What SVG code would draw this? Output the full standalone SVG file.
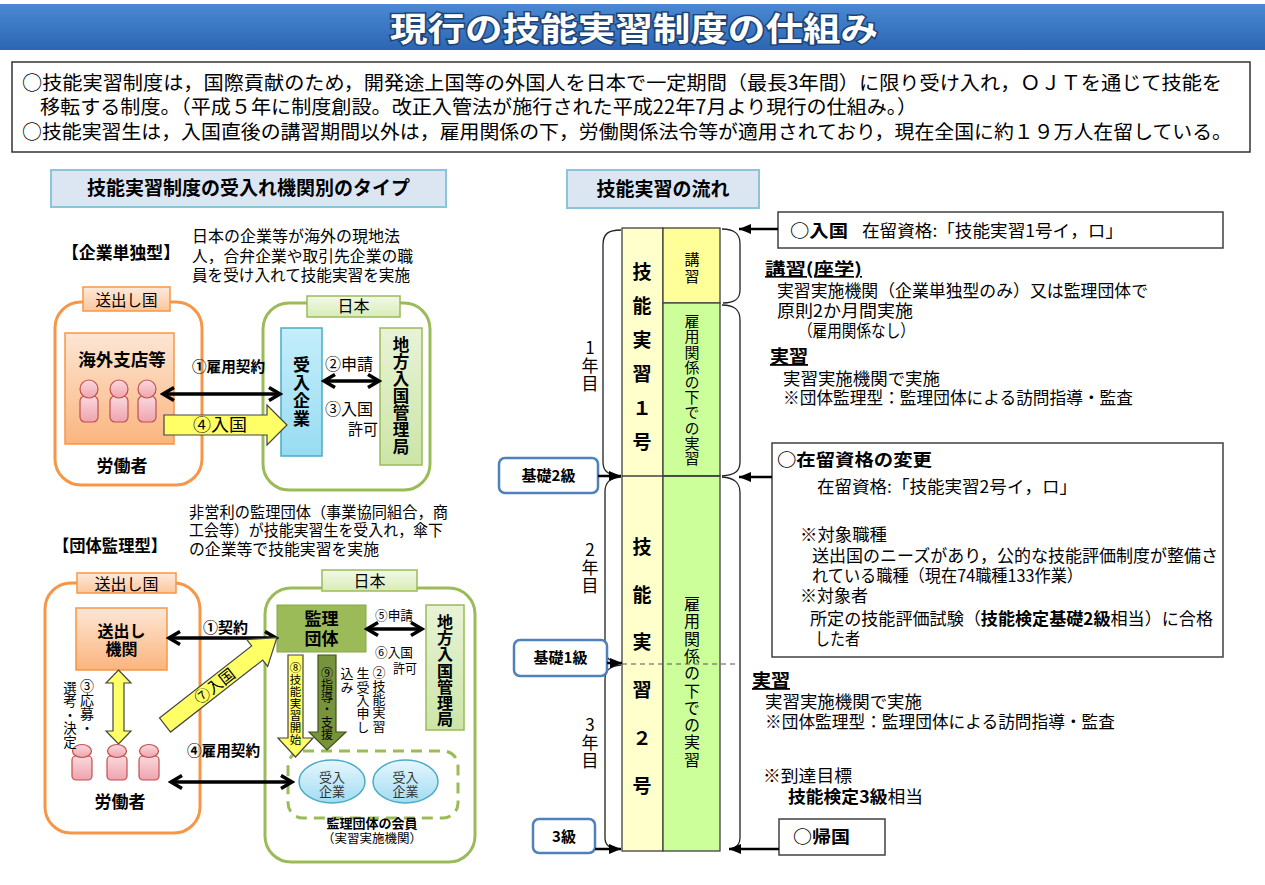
<svg xmlns="http://www.w3.org/2000/svg" width="1265" height="885" viewBox="0 0 1265 885">
<style>
.f{font-family:"Noto Sans CJK JP","Noto Sans CJK SC","Noto Sans",sans-serif;fill:#000}
.b{font-weight:700}
.v{writing-mode:vertical-rl;text-orientation:upright}
.box{fill:#fff;stroke:#404040;stroke-width:1.5}
.head{fill:#dce6f2;stroke:#8cc4da;stroke-width:2}
.oout{fill:#fff;stroke:#f79646;stroke-width:3}
.gout{fill:#fff;stroke:#9bbb59;stroke-width:3}
.otab{fill:url(#gOTab);stroke:#f79646;stroke-width:1.5}
.gtab{fill:url(#gGTab);stroke:#9bbb59;stroke-width:1.5}
.obox{fill:url(#gOBox);stroke:#f79646;stroke-width:1.5}
.gbox{fill:url(#gGBox);stroke:#9bbb59;stroke-width:1.5}
.bbox{fill:url(#gBBox);stroke:#4bacc6;stroke-width:1.5}
.pb{fill:url(#gPink);stroke:#c0504d;stroke-width:1.2}
.yarr{fill:#ffff66;stroke:#444;stroke-width:1.2}
.dbl{stroke:#000;stroke-width:3.5;fill:none;marker-start:url(#chev);marker-end:url(#chev)}
.sarr{stroke:#000;stroke-width:2.5;fill:none;marker-end:url(#tri)}
.lvl{fill:#fff;stroke:#4f81bd;stroke-width:2.5}
.brace{fill:none;stroke:#222;stroke-width:1.3}
.ell{fill:url(#gEll);stroke:#4bacc6;stroke-width:1.5}
</style>
<defs>
<linearGradient id="gTitle" x1="0" y1="0" x2="0" y2="1"><stop offset="0" stop-color="#4a89d4"/><stop offset="1" stop-color="#2c66b2"/></linearGradient>
<linearGradient id="gOTab" x1="0" y1="0" x2="0" y2="1"><stop offset="0" stop-color="#fdeadb"/><stop offset="1" stop-color="#fcc69a"/></linearGradient>
<linearGradient id="gGTab" x1="0" y1="0" x2="0" y2="1"><stop offset="0" stop-color="#f2f9e6"/><stop offset="1" stop-color="#d8ecb8"/></linearGradient>
<linearGradient id="gOBox" x1="0" y1="0" x2="0" y2="1"><stop offset="0" stop-color="#fde6d4"/><stop offset="1" stop-color="#fab57e"/></linearGradient>
<linearGradient id="gGBox" x1="0" y1="0" x2="0" y2="1"><stop offset="0" stop-color="#e8f3d6"/><stop offset="1" stop-color="#cce5a6"/></linearGradient>
<linearGradient id="gBBox" x1="0" y1="0" x2="0" y2="1"><stop offset="0" stop-color="#c4eefb"/><stop offset="1" stop-color="#98dcf2"/></linearGradient>
<linearGradient id="gPink" x1="0" y1="0" x2="0" y2="1"><stop offset="0" stop-color="#fbd9de"/><stop offset="1" stop-color="#eea3ae"/></linearGradient>
<linearGradient id="gEll" x1="0" y1="0" x2="0" y2="1"><stop offset="0" stop-color="#e6f7fd"/><stop offset="1" stop-color="#a2dcf2"/></linearGradient>
<marker id="chev" viewBox="0 0 16 16" refX="13" refY="8" markerWidth="16" markerHeight="16" markerUnits="userSpaceOnUse" orient="auto-start-reverse"><path d="M2,1.5 L13,8 L2,14.5" fill="none" stroke="#000" stroke-width="3.5"/></marker>
<marker id="tri" viewBox="0 0 12 10" refX="12" refY="5" markerWidth="12" markerHeight="10" markerUnits="userSpaceOnUse" orient="auto"><path d="M0,0 L12,5 L0,10 z" fill="#000"/></marker>
</defs>

<rect width="1265" height="885" fill="#fff"/>

<g id="title">
<rect x="0" y="4" width="1265" height="46" fill="url(#gTitle)"/>
<text class="f b" x="390" y="41" font-size="33" textLength="488" lengthAdjust="spacingAndGlyphs" style="fill:#fff;stroke:#1e4478;stroke-width:3;paint-order:stroke">現行の技能実習制度の仕組み</text>
</g>

<g id="summary">
<rect x="12" y="62" width="1238" height="90" class="box" style="stroke:#333"/>
<text class="f" x="22" y="90" font-size="19.5" textLength="1200" lengthAdjust="spacingAndGlyphs">○技能実習制度は，国際貢献のため，開発途上国等の外国人を日本で一定期間（最長3年間）に限り受け入れ，ＯＪＴを通じて技能を</text>
<text class="f" x="40" y="114" font-size="19.5" textLength="877" lengthAdjust="spacingAndGlyphs">移転する制度。（平成５年に制度創設。改正入管法が施行された平成22年7月より現行の仕組み。）</text>
<text class="f" x="22" y="139" font-size="19.5" textLength="1210" lengthAdjust="spacingAndGlyphs">○技能実習生は，入国直後の講習期間以外は，雇用関係の下，労働関係法令等が適用されており，現在全国に約１９万人在留している。</text>
</g>

<g id="heading-types">
<rect x="51" y="170" width="395" height="37" class="head"/>
<text class="f b" x="248.5" y="195" font-size="19" text-anchor="middle">技能実習制度の受入れ機関別のタイプ</text>
</g>

<g id="heading-flow">
<rect x="567" y="170" width="192" height="38" class="head"/>
<text class="f b" x="663" y="196" font-size="19" text-anchor="middle">技能実習の流れ</text>
</g>

<!-- 企業単独型 -->
<g id="type1-label">
<text class="f b" x="62" y="259" font-size="17" textLength="118" lengthAdjust="spacingAndGlyphs">【企業単独型】</text>
<text class="f" x="192" y="242" font-size="16" textLength="208" lengthAdjust="spacingAndGlyphs">日本の企業等が海外の現地法</text>
<text class="f" x="192" y="262" font-size="16" textLength="221" lengthAdjust="spacingAndGlyphs">人，合弁企業や取引先企業の職</text>
<text class="f" x="192" y="281" font-size="16" textLength="218" lengthAdjust="spacingAndGlyphs">員を受け入れて技能実習を実施</text>
</g>

<g id="t1-sending">
<rect x="55" y="302" width="147" height="183" rx="26" class="oout"/>
<rect x="83" y="287" width="87" height="24" class="otab"/>
<text class="f" x="126.5" y="306" font-size="15.5" text-anchor="middle">送出し国</text>
<text class="f b" x="122" y="472" font-size="17" text-anchor="middle">労働者</text>
</g>

<g id="t1-branch">
<rect x="65" y="333" width="109" height="111" class="obox"/>
<text class="f b" x="122" y="366" font-size="17.5" text-anchor="middle">海外支店等</text>
<rect x="80" y="396" width="18" height="26" rx="5" class="pb"/><circle cx="89" cy="389" r="9" class="pb"/>
<rect x="110" y="396" width="18" height="26" rx="5" class="pb"/><circle cx="119" cy="389" r="9" class="pb"/>
<rect x="138" y="396" width="18" height="26" rx="5" class="pb"/><circle cx="147" cy="389" r="9" class="pb"/>
</g>

<g id="t1-japan">
<rect x="263" y="303" width="167" height="187" rx="26" class="gout"/>
<rect x="307" y="296" width="93" height="21" class="gtab"/>
<text class="f" x="353.5" y="312" font-size="16" text-anchor="middle">日本</text>
</g>

<g id="t1-company">
<rect x="281" y="328" width="41" height="128" class="bbox"/>
<text class="f b v" x="301.5" y="356" font-size="17" letter-spacing="1">受入企業</text>
</g>

<g id="t1-immig">
<rect x="380" y="328" width="42" height="137" class="gbox"/>
<text class="f b v" x="401" y="336" font-size="16.5" letter-spacing="0.6">地方入国管理局</text>
</g>

<!-- 団体監理型 -->
<g id="type2-label">
<text class="f b" x="53" y="552" font-size="16.5" textLength="114" lengthAdjust="spacingAndGlyphs">【団体監理型】</text>
<text class="f" x="189" y="518" font-size="15.5" textLength="259" lengthAdjust="spacingAndGlyphs">非営利の監理団体（事業協同組合，商</text>
<text class="f" x="189" y="536" font-size="15.5" textLength="254" lengthAdjust="spacingAndGlyphs">工会等）が技能実習生を受入れ，傘下</text>
<text class="f" x="189" y="555" font-size="15.5" textLength="190" lengthAdjust="spacingAndGlyphs">の企業等で技能実習を実施</text>
</g>

<g id="t2-sending">
<rect x="45" y="583" width="155" height="250" rx="26" class="oout"/>
<rect x="77" y="573" width="99" height="20" class="otab"/>
<text class="f" x="126.5" y="590" font-size="16" text-anchor="middle">送出し国</text>
<text class="f b" x="120" y="808" font-size="17" text-anchor="middle">労働者</text>
</g>

<g id="t2-agency">
<rect x="76" y="608" width="91" height="62" class="obox"/>
<text class="f b" x="121.5" y="637" font-size="16" text-anchor="middle">送出し</text>
<text class="f b" x="121.5" y="655" font-size="16" text-anchor="middle">機関</text>
</g>

<g id="t2-workers">
<rect x="72" y="756" width="20" height="24" rx="4" class="pb"/><ellipse cx="82" cy="751" rx="9.5" ry="6.5" class="pb"/>
<rect x="107" y="756" width="20" height="24" rx="4" class="pb"/><ellipse cx="117" cy="751" rx="9.5" ry="6.5" class="pb"/>
<rect x="139" y="756" width="20" height="24" rx="4" class="pb"/><ellipse cx="149" cy="751" rx="9.5" ry="6.5" class="pb"/>
</g>

<g id="t2-japan">
<rect x="265" y="588" width="210" height="274" rx="26" class="gout"/>
<rect x="322" y="570" width="95" height="21" class="gtab"/>
<text class="f" x="369.5" y="587" font-size="16" text-anchor="middle">日本</text>
</g>

<g id="t2-supervisor">
<rect x="277" y="605" width="89" height="47" fill="#9bbb59" stroke="#86a84a" stroke-width="1"/>
<text class="f b" x="321.5" y="625" font-size="17" text-anchor="middle">監理</text>
<text class="f b" x="321.5" y="645" font-size="17" text-anchor="middle">団体</text>
</g>

<g id="t2-immig">
<rect x="426" y="605" width="38" height="125" class="gbox"/>
<text class="f b v" x="445" y="614" font-size="16" letter-spacing="0.2">地方入国管理局</text>
</g>

<g id="t2-members">
<rect x="288" y="751" width="170" height="67" rx="15" fill="none" stroke="#9bbb59" stroke-width="3" stroke-dasharray="11 7"/>
<ellipse cx="332" cy="781.5" rx="33" ry="21.5" class="ell"/>
<ellipse cx="405.5" cy="781.5" rx="32.5" ry="21.5" class="ell"/>
<text class="f" x="332" y="782" font-size="13" text-anchor="middle" style="fill:#333">受入</text>
<text class="f" x="332" y="796" font-size="13" text-anchor="middle" style="fill:#333">企業</text>
<text class="f" x="405.5" y="782" font-size="13" text-anchor="middle" style="fill:#333">受入</text>
<text class="f" x="405.5" y="796" font-size="13" text-anchor="middle" style="fill:#333">企業</text>
<text class="f b" x="372" y="828" font-size="13" text-anchor="middle">監理団体の会員</text>
<text class="f" x="372" y="843" font-size="12.5" text-anchor="middle">（実習実施機関）</text>
</g>

<!-- 流れ -->
<g id="flow-column">
<rect x="622" y="228" width="41" height="623" fill="#ffffcc" stroke="#404040" stroke-width="1.3"/>
<rect x="663" y="228" width="57" height="75" fill="#ffff99" stroke="#404040" stroke-width="1.3"/>
<rect x="663" y="303" width="57" height="173" fill="#ccff99" stroke="#404040" stroke-width="1.3"/>
<rect x="663" y="476" width="57" height="375" fill="#ccff99" stroke="#404040" stroke-width="1.3"/>
<line x1="622" y1="476" x2="720" y2="476" stroke="#404040" stroke-width="1.3"/>
<line x1="622" y1="664" x2="737" y2="664" stroke="#555" stroke-width="1.2" stroke-dasharray="5 4"/>
<text class="f b v" x="642" y="262" font-size="19" letter-spacing="15">技能実習１号</text>
<text class="f b v" x="642" y="537" font-size="19" letter-spacing="28.8">技能実習２号</text>
<text class="f v" x="692" y="252" font-size="15" letter-spacing="2">講習</text>
<text class="f v" x="692" y="314" font-size="15" letter-spacing="0.2">雇用関係の下での実習</text>
<text class="f v" x="692" y="596" font-size="16" letter-spacing="1.3">雇用関係の下での実習</text>
</g>

<g id="years">
<path class="brace" d="M621,230 C608,230 603,234 603,245 L603,462 C603,471 608,475 620,476"/>
<path class="brace" d="M621,477 C610,478 605,482 605,492 L605,650 C605,658 610,662 620,663"/>
<path class="brace" d="M621,665 C610,666 605,670 605,679 L605,838 C605,845 610,849 620,849"/>
<path class="brace" d="M722,229 C735,229 740,234 740,244 L740,290 C740,299 735,303 723,303"/>
<path class="brace" d="M722,305 C735,305 740,310 740,320 L740,462 C740,471 735,475 722,476"/>
<path class="brace" d="M722,477 C735,478 740,483 740,493 L740,838 C740,845 736,848 730,849"/>
<text class="f v" x="590" y="339" font-size="17" letter-spacing="1">1年目</text>
<text class="f v" x="590" y="541" font-size="17" letter-spacing="1">2年目</text>
<text class="f v" x="590" y="716" font-size="17" letter-spacing="1">3年目</text>
</g>

<g id="level-basic2">
<rect x="499" y="458" width="99" height="35" rx="6" class="lvl"/>
<text class="f b" x="548.5" y="481" font-size="15" text-anchor="middle">基礎2級</text>
</g>
<g id="level-basic1">
<rect x="514" y="640" width="93" height="36" rx="6" class="lvl"/>
<text class="f b" x="560.5" y="663" font-size="15" text-anchor="middle">基礎1級</text>
</g>
<g id="level-3">
<rect x="533" y="819" width="62" height="34" rx="6" class="lvl"/>
<text class="f b" x="564" y="842" font-size="15" text-anchor="middle">3級</text>
</g>

<g id="entry">
<rect x="778" y="212" width="445" height="36" class="box"/>
<text class="f b" x="790" y="237" font-size="17" textLength="58" lengthAdjust="spacingAndGlyphs">○入国</text>
<text class="f" x="862" y="237" font-size="17" textLength="261" lengthAdjust="spacingAndGlyphs">在留資格:「技能実習1号イ，ロ」</text>
</g>

<g id="lecture-notes">
<text class="f b" x="765" y="275" font-size="16.5" textLength="97" lengthAdjust="spacingAndGlyphs" text-decoration="underline">講習(座学)</text>
<text class="f" x="777" y="297" font-size="17" textLength="371" lengthAdjust="spacingAndGlyphs">実習実施機関（企業単独型のみ）又は監理団体で</text>
<text class="f" x="777" y="317" font-size="17" textLength="136" lengthAdjust="spacingAndGlyphs">原則2か月間実施</text>
<text class="f" x="798" y="337" font-size="17" textLength="117" lengthAdjust="spacingAndGlyphs">（雇用関係なし）</text>
<text class="f b" x="770" y="363" font-size="18" textLength="38" lengthAdjust="spacingAndGlyphs" text-decoration="underline">実習</text>
<text class="f" x="783" y="385" font-size="17" textLength="157" lengthAdjust="spacingAndGlyphs">実習実施機関で実施</text>
<text class="f" x="783" y="404" font-size="17" textLength="350" lengthAdjust="spacingAndGlyphs">※団体監理型：監理団体による訪問指導・監査</text>
</g>

<g id="status-change">
<rect x="772" y="443" width="451" height="214" class="box"/>
<text class="f b" x="777" y="466" font-size="17.5" textLength="155" lengthAdjust="spacingAndGlyphs">○在留資格の変更</text>
<text class="f" x="817" y="493" font-size="17" textLength="260" lengthAdjust="spacingAndGlyphs">在留資格:「技能実習2号イ，ロ」</text>
<text class="f" x="800" y="541" font-size="17" textLength="87" lengthAdjust="spacingAndGlyphs">※対象職種</text>
<text class="f" x="812" y="562" font-size="17" textLength="406" lengthAdjust="spacingAndGlyphs">送出国のニーズがあり，公的な技能評価制度が整備さ</text>
<text class="f" x="812" y="582" font-size="17" textLength="271" lengthAdjust="spacingAndGlyphs">れている職種（現在74職種133作業）</text>
<text class="f" x="800" y="602" font-size="17" textLength="68" lengthAdjust="spacingAndGlyphs">※対象者</text>
<text class="f" x="810" y="625" font-size="17" textLength="403" lengthAdjust="spacingAndGlyphs">所定の技能評価試験（<tspan class="b">技能検定基礎2級</tspan>相当）に合格</text>
<text class="f" x="815" y="645" font-size="17" textLength="45" lengthAdjust="spacingAndGlyphs">した者</text>
</g>

<g id="practice-notes">
<text class="f b" x="752" y="687" font-size="18" textLength="38" lengthAdjust="spacingAndGlyphs" text-decoration="underline">実習</text>
<text class="f" x="765" y="708" font-size="17" textLength="157" lengthAdjust="spacingAndGlyphs">実習実施機関で実施</text>
<text class="f" x="765" y="728" font-size="17" textLength="350" lengthAdjust="spacingAndGlyphs">※団体監理型：監理団体による訪問指導・監査</text>
<text class="f" x="763" y="782" font-size="17" textLength="89" lengthAdjust="spacingAndGlyphs">※到達目標</text>
<text class="f" x="788" y="803" font-size="17" textLength="135" lengthAdjust="spacingAndGlyphs"><tspan class="b">技能検定3級</tspan>相当</text>
</g>

<g id="return">
<rect x="779" y="819" width="106" height="36" class="box"/>
<text class="f b" x="793" y="843" font-size="17" textLength="57" lengthAdjust="spacingAndGlyphs">○帰国</text>
</g>

<g id="connectors">
<!-- type 1 -->
<line class="dbl" x1="163" y1="394" x2="280" y2="394"/>
<text class="f b" x="192" y="372" font-size="14.5" textLength="73" lengthAdjust="spacingAndGlyphs">①雇用契約</text>
<polygon class="yarr" points="164,415 267,415 267,405 287,425 267,445 267,435 164,435"/>
<text class="f" x="193" y="431" font-size="17" textLength="54" lengthAdjust="spacingAndGlyphs">④入国</text>
<line class="dbl" x1="324" y1="381" x2="379" y2="381"/>
<text class="f" x="325" y="370" font-size="16" textLength="48" lengthAdjust="spacingAndGlyphs">②申請</text>
<text class="f" x="325" y="415" font-size="16" textLength="48" lengthAdjust="spacingAndGlyphs">③入国</text>
<text class="f" x="348" y="435" font-size="16" textLength="30" lengthAdjust="spacingAndGlyphs">許可</text>
<!-- type 2 -->
<line class="dbl" x1="169" y1="638" x2="276" y2="638"/>
<text class="f b" x="203" y="633" font-size="15" textLength="45" lengthAdjust="spacingAndGlyphs">①契約</text>
<polygon class="yarr" points="118.5,670 131,683 124,683 124,731 131,731 118.5,744 106,731 113,731 113,683 106,683"/>
<text class="f v" x="87" y="679" font-size="14">③応募・</text>
<text class="f v" x="70" y="681" font-size="13.5">選考・決定</text>
<g transform="translate(165,725) rotate(-38)">
<polygon class="yarr" points="0,-9 117,-9 117,-17 142,0 117,17 117,9 0,9"/>
<text class="f" x="63" y="5.5" font-size="15.5" text-anchor="middle">⑦入国</text>
</g>
<line class="dbl" x1="367" y1="629" x2="422" y2="629"/>
<text class="f" x="375" y="620" font-size="13" textLength="38" lengthAdjust="spacingAndGlyphs">⑤申請</text>
<text class="f" x="375" y="657" font-size="13" textLength="38" lengthAdjust="spacingAndGlyphs">⑥入国</text>
<text class="f" x="393" y="673" font-size="13" textLength="24" lengthAdjust="spacingAndGlyphs">許可</text>
<text class="f v" x="379" y="666" font-size="13" letter-spacing="0.3">②技能実習</text>
<text class="f v" x="363" y="667" font-size="13" letter-spacing="0.3">生受入申し</text>
<text class="f v" x="347" y="667" font-size="13" letter-spacing="0.3">込み</text>
<polygon class="yarr" points="288,655 303,655 303,738 313,738 295.5,757 278,738 288,738"/>
<text class="f v" x="295.5" y="662" font-size="11.5" letter-spacing="0.5">⑧技能実習開始</text>
<polygon points="318,655 336,655 336,732 346,732 327,750 309,732 318,732" fill="#77933c" stroke="#3e5219" stroke-width="1.2"/>
<text class="f v" x="327" y="667" font-size="12" letter-spacing="0.3">⑨指導・支援</text>
<line class="dbl" x1="171" y1="782" x2="292" y2="782"/>
<text class="f b" x="187" y="756" font-size="14.5" textLength="73" lengthAdjust="spacingAndGlyphs">④雇用契約</text>
<!-- flow -->
<line class="sarr" x1="778" y1="229" x2="739" y2="229"/>
<line class="sarr" x1="772" y1="477" x2="739" y2="477"/>
<line class="sarr" x1="779" y1="849" x2="729" y2="849"/>
<line class="sarr" x1="598" y1="476" x2="621" y2="476"/>
<line class="sarr" x1="607" y1="663" x2="622" y2="663"/>
<line class="sarr" x1="595" y1="849" x2="621" y2="849"/>
</g>
</svg>
